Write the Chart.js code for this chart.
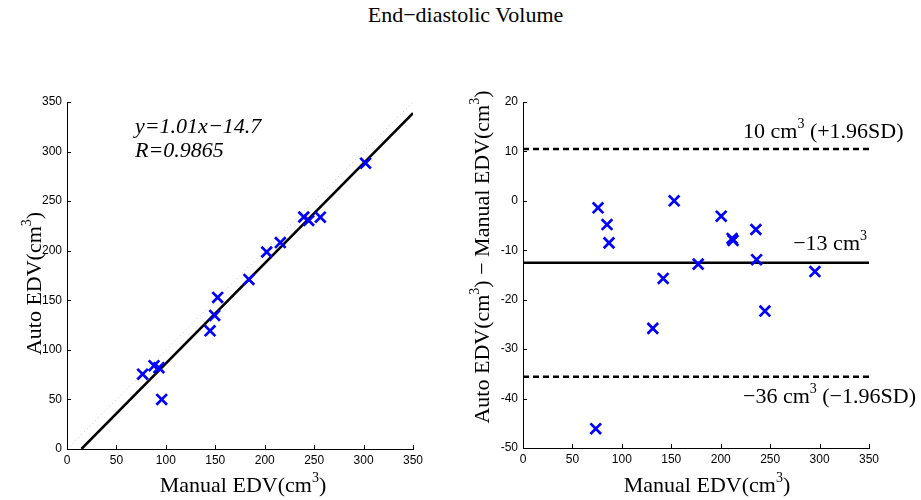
<!DOCTYPE html>
<html>
<head>
<meta charset="utf-8">
<title>End-diastolic Volume</title>
<script src="https://cdn.jsdelivr.net/npm/chart.js@4.4.0/dist/chart.umd.min.js"></script>
<style>
  html, body { margin: 0; padding: 0; background: #fff; }
  #wrap { position: relative; width: 921px; height: 500px; overflow: hidden; }
  #title { position: absolute; left: 5px; top: 2px; width: 921px; text-align: center;
           font: 22px "Liberation Serif", serif; color: #000; }
  #leftChart { position: absolute; left: 0; top: 0; }
  #rightChart { position: absolute; left: 440px; top: 0; }
</style>
</head>
<body>
<div id="wrap">
  <div id="title">End−diastolic Volume</div>
  <canvas id="leftChart" width="460" height="500"></canvas>
  <canvas id="rightChart" width="481" height="500"></canvas>
</div>
<script>
// Correlation plot (manual vs auto)
const manualEdv = [76.5, 88, 93, 95.8, 144.7, 149.4, 152.4, 184, 202, 215.8, 239.5, 244.5, 256.3, 302];
const autoEdv = [75.5, 84, 82, 50, 119.2, 134.7, 152.9, 171, 198.7, 208.2, 234, 230.5, 233.8, 288.3];
const fitLineX = [14.6, 350];
const fitLineY = [0, 338.8];
const identityX = [0, 350];
const identityY = [0, 350];

// Bland-Altman plot
const baManual = [73.6, 75.9, 85, 87, 131.3, 141.8, 152.9, 177.2, 200.5, 211.5, 212.5, 235.6, 236.3, 244.7, 295.3];
const baDiff = [-46.1, -1.4, -4.8, -8.5, -25.8, -15.7, 0, -12.8, -3.1, -7.6, -8.0, -5.8, -11.9, -22.3, -14.3];
const meanDiff = -12.5;
const upperLimit = 10.5;
const lowerLimit = -35.6;
const limitX = [0, 350];

const xTicks = { min: 0, max: 350, step: 50 };
const leftYTicks = { min: 0, max: 350, step: 50 };
const rightYTicks = { min: -50, max: 20, step: 10 };

const SERIF = '"Liberation Serif", serif';
const BLUE = '#0000ff';
const TEXT_SIZE = 22;

function toPoints(xs, ys) {
  return xs.map((x, i) => ({ x, y: ys[i] }));
}

// draws text made of normal and superscript pieces
function drawRich(ctx, parts, x, y, opts) {
  const size = opts.size || TEXT_SIZE;
  const mainFont = `${opts.italic ? 'italic ' : ''}${size}px ${SERIF}`;
  const supFont = `${Math.round(size * 0.65)}px ${SERIF}`;
  let total = 0;
  const widths = parts.map(([text, sup]) => {
    ctx.font = sup ? supFont : mainFont;
    const w = ctx.measureText(text).width;
    total += w;
    return w;
  });
  ctx.save();
  ctx.translate(x, y);
  if (opts.rotate) ctx.rotate(opts.rotate);
  let cx = 0;
  if (opts.align === 'center') cx = -total / 2;
  if (opts.align === 'right') cx = -total;
  ctx.textAlign = 'left';
  ctx.textBaseline = 'alphabetic';
  ctx.fillStyle = '#000';
  parts.forEach(([text, sup], i) => {
    ctx.font = sup ? supFont : mainFont;
    ctx.fillText(text, cx, sup ? -size * 0.45 : 0);
    cx += widths[i];
  });
  ctx.restore();
}

// inward tick marks plus text labels, like the matlab figure
function matlabPlugin(labels) {
  return {
    id: 'matlabAxes',
    afterDraw(chart) {
      const { ctx, chartArea, scales } = chart;
      ctx.save();
      ctx.strokeStyle = '#000';
      ctx.lineWidth = 1;
      ctx.beginPath();
      scales.x.ticks.forEach((t, i) => {
        const px = Math.round(scales.x.getPixelForTick(i)) + 0.5;
        ctx.moveTo(px, chartArea.bottom);
        ctx.lineTo(px, chartArea.bottom - 4);
      });
      scales.y.ticks.forEach((t, i) => {
        const py = Math.round(scales.y.getPixelForTick(i)) + 0.5;
        ctx.moveTo(chartArea.left, py);
        ctx.lineTo(chartArea.left + 4, py);
      });
      ctx.stroke();
      ctx.restore();
      labels(chart).forEach((l) => drawRich(ctx, l.parts, l.x, l.y, l));
    },
  };
}

function makeScale(range, fixed, horizontal) {
  return {
    type: 'linear',
    min: range.min,
    max: range.max,
    ticks: {
      stepSize: range.step,
      color: '#000',
      font: { size: 12, family: '"Liberation Sans", sans-serif' },
      padding: horizontal ? 4 : 5,
      maxRotation: 0,
      autoSkip: false,
    },
    grid: { display: false, drawTicks: false },
    border: { display: true, color: '#000', width: 1 },
    afterFit: (scale) => {
      if (horizontal) scale.height = fixed;
      else scale.width = fixed;
    },
  };
}

function lineSet(xs, ys, color, width, dash) {
  return {
    data: toPoints(xs, ys),
    showLine: true,
    borderColor: color,
    borderWidth: width,
    borderDash: dash,
    pointRadius: 0,
    fill: false,
  };
}

function pointSet(xs, ys) {
  return {
    data: toPoints(xs, ys),
    pointStyle: 'crossRot',
    pointRadius: 7.5,
    borderColor: BLUE,
    backgroundColor: BLUE,
    pointBorderWidth: 2.7,
    borderWidth: 2.7,
  };
}

const baseOptions = {
  responsive: false,
  animation: false,
  events: [],
  plugins: { legend: { display: false }, tooltip: { enabled: false } },
};

function createLeftChart() {
  const canvas = document.getElementById('leftChart');
  return new Chart(canvas, {
    type: 'scatter',
    data: {
      datasets: [
        pointSet(manualEdv, autoEdv),
        lineSet(fitLineX, fitLineY, '#000', 2.5, []),
        lineSet(identityX, identityY, '#c4c4c4', 1, [1, 3]),
      ],
    },
    options: {
      ...baseOptions,
      layout: { padding: { top: 102, right: 47, left: 0, bottom: 0 } },
      scales: {
        x: makeScale(xTicks, 51, true),
        y: makeScale(leftYTicks, 67, false),
      },
    },
    plugins: [matlabPlugin((chart) => {
      const a = chart.chartArea;
      return [
        { parts: [['y=1.01x−14.7', false]], x: 135, y: 133, italic: true },
        { parts: [['R=0.9865', false]], x: 135, y: 157, italic: true },
        { parts: [['Manual EDV(cm', false], ['3', true], [')', false]], x: (a.left + a.right) / 2 + 3, y: 492, align: 'center' },
        { parts: [['Auto EDV(cm', false], ['3', true], [')', false]], x: 41, y: (a.top + a.bottom) / 2 + 8, align: 'center', rotate: -Math.PI / 2 },
      ];
    })],
  });
}

function createRightChart() {
  const canvas = document.getElementById('rightChart');
  return new Chart(canvas, {
    type: 'scatter',
    data: {
      datasets: [
        pointSet(baManual, baDiff),
        lineSet(limitX, [meanDiff, meanDiff], '#000', 2.5, []),
        lineSet(limitX, [upperLimit, upperLimit], '#000', 2.5, [6, 4]),
        lineSet(limitX, [lowerLimit, lowerLimit], '#000', 2.5, [6, 4]),
      ],
    },
    options: {
      ...baseOptions,
      layout: { padding: { top: 102, right: 52, left: 0, bottom: 0 } },
      scales: {
        x: makeScale(xTicks, 52, true),
        y: makeScale(rightYTicks, 83, false),
      },
    },
    plugins: [matlabPlugin((chart) => {
      const a = chart.chartArea;
      const ys = chart.scales.y;
      return [
        { parts: [['10 cm', false], ['3', true], [' (+1.96SD)', false]], x: 303, y: ys.getPixelForValue(upperLimit) - 11 },
        { parts: [['−13 cm', false], ['3', true]], x: a.right - 2, y: ys.getPixelForValue(meanDiff) - 13, align: 'right' },
        { parts: [['−36 cm', false], ['3', true], [' (−1.96SD)', false]], x: 303, y: ys.getPixelForValue(lowerLimit) + 26 },
        { parts: [['Manual EDV(cm', false], ['3', true], [')', false]], x: (a.left + a.right) / 2 + 11, y: 492, align: 'center' },
        { parts: [['Auto EDV(cm', false], ['3', true], [') − Manual EDV(cm', false], ['3', true], [')', false]], x: 49, y: 257, align: 'center', rotate: -Math.PI / 2 },
      ];
    })],
  });
}

function init() {
  Chart.defaults.font.family = '"Liberation Sans", sans-serif';
  Chart.defaults.color = '#000';
  createLeftChart();
  createRightChart();
}

window.addEventListener('DOMContentLoaded', init);
</script>
</body>
</html>
